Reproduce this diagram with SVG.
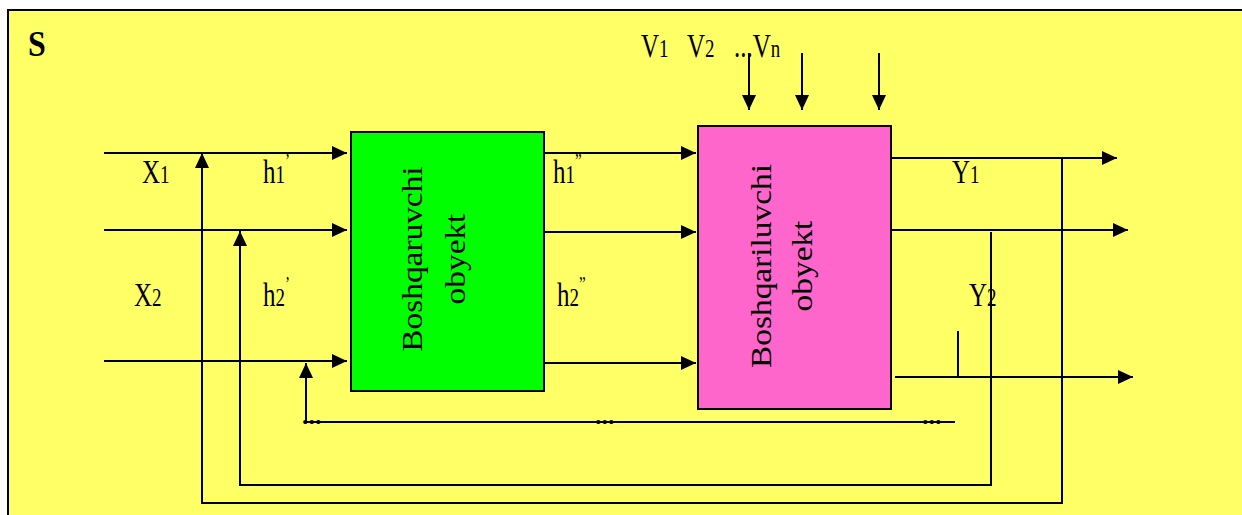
<svg xmlns="http://www.w3.org/2000/svg" width="1242" height="515" viewBox="0 0 1242 515">
<style>
.ln{fill:none;stroke:#000;stroke-width:2}
.ar{marker-end:url(#ah)}
.t{font-family:"Liberation Serif","Times New Roman",serif;font-size:25px;fill:#000}
.r{font-size:29px}
.sub{font-size:19px}
.pr{font-size:15px}
.dots{font-family:"Liberation Serif",serif;font-size:26px;font-weight:bold;fill:#000}
</style>
<defs>
<marker id="ah" markerUnits="userSpaceOnUse" markerWidth="16" markerHeight="15" refX="15" refY="7" orient="auto">
<path d="M0,0 L15,7 L0,14 z" fill="#000"/>
</marker>
</defs>
<rect width="1242" height="515" fill="#fff"/>
<g id="system">
<rect x="8" y="10" width="1260" height="530" fill="#FFFF66" stroke="#000" stroke-width="2"/>
<text class="t" transform="translate(28,56) scale(1,1.15)" style="font-weight:bold;font-size:32px">S</text>
</g>
<g id="connectors">
<path class="ln ar" d="M104,153 H347"/>
<path class="ln ar" d="M104,230 H347"/>
<path class="ln ar" d="M104,361 H347"/>
<path class="ln ar" d="M1062,158 V503 H202 V153"/>
<path class="ln ar" d="M991,232 V485 H240 V231"/>
<path class="ln ar" d="M955,422 H306 V363"/>
<path class="ln ar" d="M543,153 H696"/>
<path class="ln ar" d="M543,232 H696"/>
<path class="ln ar" d="M543,363 H696"/>
<path class="ln ar" d="M892,158 H1117"/>
<path class="ln ar" d="M892,230 H1128"/>
<path class="ln ar" d="M895,377 H1133"/>
<path class="ln" d="M958,331 V377"/>
<path class="ln ar" d="M749,53 V110"/>
<path class="ln ar" d="M802,53 V110"/>
<path class="ln ar" d="M879,53 V110"/>
<text class="dots" x="302" y="424">...</text>
<text class="dots" x="595" y="424">...</text>
<text class="dots" x="922" y="424">...</text>
</g>
<g id="labels">
<text class="t" transform="translate(142,183) scale(1,1.33)">X<tspan class="sub">1</tspan></text>
<text class="t" transform="translate(263,183) scale(1,1.33)">h<tspan class="sub">1</tspan><tspan class="pr" dy="-11">’</tspan></text>
<text class="t" transform="translate(553,183) scale(1,1.33)">h<tspan class="sub">1</tspan><tspan class="pr" dy="-11">”</tspan></text>
<text class="t" transform="translate(134,306) scale(1,1.33)">X<tspan class="sub">2</tspan></text>
<text class="t" transform="translate(263,306) scale(1,1.33)">h<tspan class="sub">2</tspan><tspan class="pr" dy="-11">’</tspan></text>
<text class="t" transform="translate(557,306) scale(1,1.33)">h<tspan class="sub">2</tspan><tspan class="pr" dy="-11">”</tspan></text>
<text class="t" transform="translate(952,183) scale(1,1.33)">Y<tspan class="sub">1</tspan></text>
<text class="t" transform="translate(969,306) scale(1,1.33)">Y<tspan class="sub">2</tspan></text>
<text class="t" transform="translate(641,57) scale(1,1.33)">V<tspan class="sub">1</tspan></text>
<text class="t" transform="translate(687,57) scale(1,1.33)">V<tspan class="sub">2</tspan></text>
<text class="t" transform="translate(734,57) scale(1,1.33)">...V<tspan class="sub">n</tspan></text>
</g>
<g id="boshqaruvchi">
<rect x="351" y="132" width="193" height="259" fill="#00FF00" stroke="#000" stroke-width="2"/>
<text class="t r" text-anchor="middle" transform="translate(422,259) scale(1,1.15) rotate(-90)">Boshqaruvchi</text>
<text class="t r" text-anchor="middle" transform="translate(465,259) scale(1,1.15) rotate(-90)">obyekt</text>
</g>
<g id="boshqariluvchi">
<rect x="698" y="126" width="193" height="283" fill="#FF66CC" stroke="#000" stroke-width="2"/>
<text class="t r" text-anchor="middle" transform="translate(771,266) scale(1,1.15) rotate(-90)">Boshqariluvchi</text>
<text class="t r" text-anchor="middle" transform="translate(812,266) scale(1,1.15) rotate(-90)">obyekt</text>
</g>
</svg>
